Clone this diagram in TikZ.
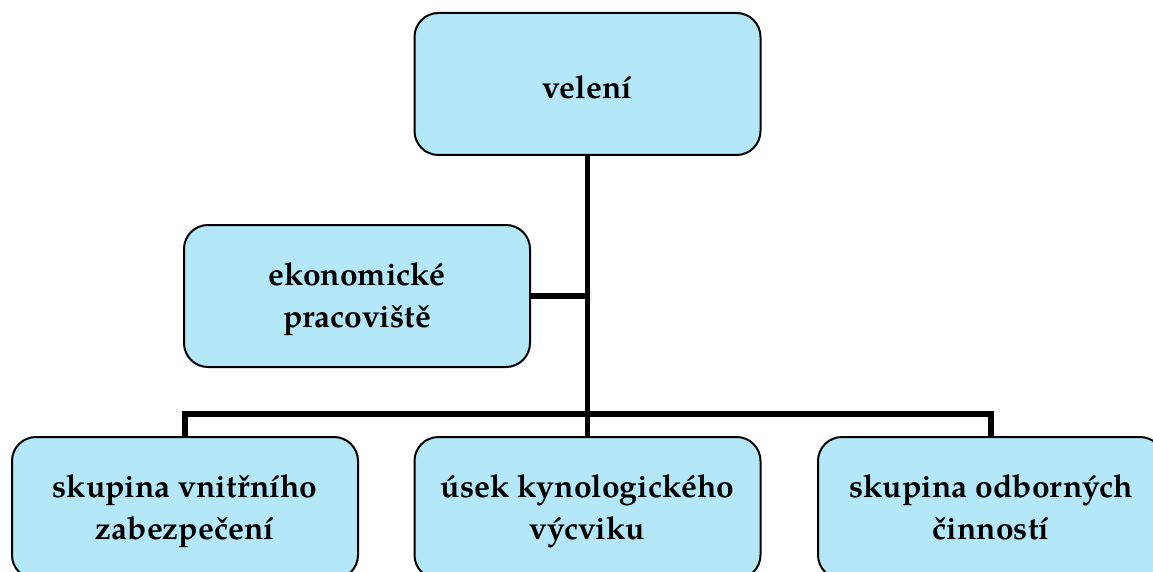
\documentclass[tikz,border=0pt]{standalone}
\usepackage{fontspec}
\setmainfont{TeX Gyre Pagella}
\definecolor{boxfill}{RGB}{180,232,249}
\tikzset{
  unit/.style={draw=black, line width=2pt, fill=boxfill, rounded corners=24pt,
    minimum width=346pt, minimum height=142pt, align=center, inner sep=0pt,
    text height=64pt, text depth=2pt,
    font=\bfseries\fontsize{31.8}{41.5}\selectfont},
  conn/.style={draw=black, line width=5.5pt, line cap=butt, line join=miter}
}
\begin{document}
\begin{tikzpicture}[x=1pt,y=-1pt]
\useasboundingbox (0,0) rectangle (1153,572);
\clip (0,0) rectangle (1153,572);
\node[unit, text height=32pt] (top) at (587.5,84) {velení};
\node[unit] (econ) at (357,296) {ekonomické\\pracoviště};
\node[unit] (b1) at (185,508) {skupina vnitřního\\zabezpečení};
\node[unit] (b2) at (587.5,508) {úsek kynologického\\výcviku};
\node[unit] (b3) at (991,508) {skupina odborných\\činností};
\coordinate (bus) at (587.5,414);
\draw[conn] (top.south) -- (b2.north);
\draw[conn] (econ.east) -- (econ.east -| top.south);
\draw[conn] (b1.north) |- (bus) -| (b3.north);
\end{tikzpicture}
\end{document}
